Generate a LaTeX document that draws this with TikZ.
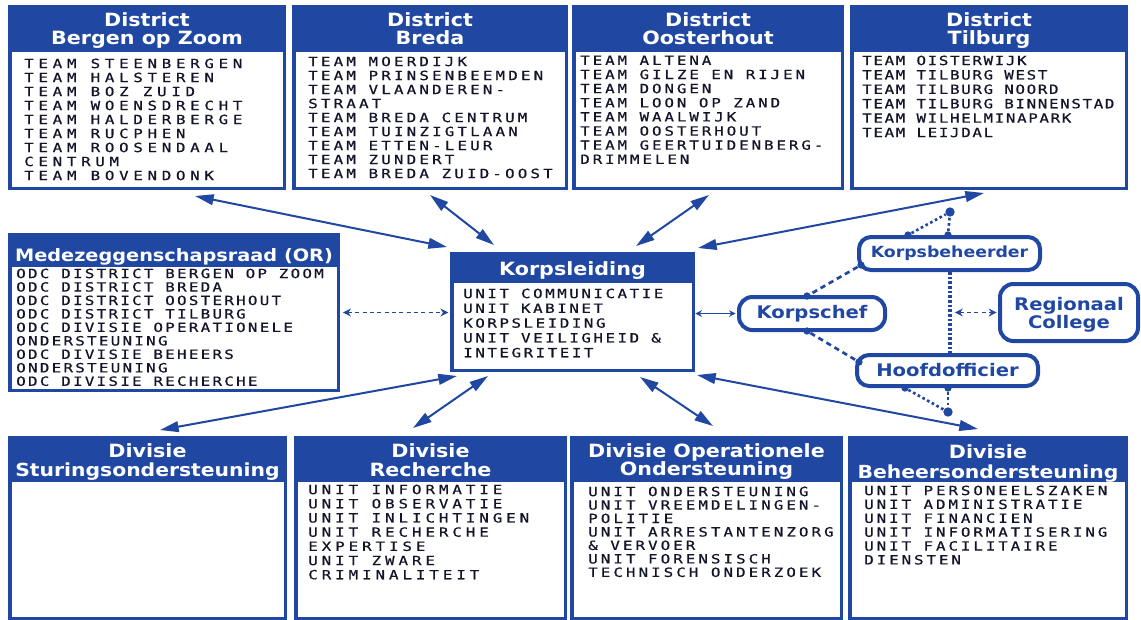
\documentclass[tikz,border=0pt]{standalone}
\usepackage{fontspec}
\usetikzlibrary{arrows.meta,fit,calc}
\newfontfamily\headfont{DejaVu Sans}[FakeStretch=1.13]
\newfontfamily\bodyfont{DejaVu Sans Mono}[FakeStretch=1.25,FakeBold=0.6]
\definecolor{cblue}{RGB}{32,72,163}
\definecolor{ctext}{RGB}{18,20,42}
\newcommand\orgbox[6]{%
  \fill[cblue] (#2,#3) rectangle (#4,#5);
  \fill[white] ({#2+3.5},#6) rectangle ({#4-3.5},{#5-3.5});
  \path (#2,#3) coordinate (#1nw) (#4,#5) coordinate (#1se);
  \node[fit=(#1nw)(#1se), inner sep=0pt] (#1) {};
}
\tikzset{
  head/.style={font=\headfont\bfseries\fontsize{13.7pt}{16pt}\selectfont, text=white, inner sep=0pt, anchor=base},
  body/.style 2 args={font=\bodyfont\fontsize{9.5pt}{#2}\selectfont\addfontfeature{LetterSpace=#1}, text=ctext, align=left, inner sep=0pt, anchor=north west},
  arr/.style={draw=cblue, line width=1.5pt, {Triangle[length=14pt,width=8pt]}-{Triangle[length=14pt,width=8pt]}},
  smallarr/.style={draw=cblue, line width=1.2pt, {Stealth[length=5pt,width=5pt]}-{Stealth[length=5pt,width=5pt]}},
  dasharr/.style={draw=cblue, line width=1.2pt, dash pattern=on 3pt off 2.5pt, {Stealth[length=6pt,width=6pt]}-{Stealth[length=6pt,width=6pt]}},
  rbox/.style={draw=cblue, line width=3pt, fill=white, inner sep=0pt},
  clab/.style={text=cblue, anchor=base, inner sep=0pt},
  bigdot/.style={circle, fill=cblue, inner sep=0pt, minimum size=7pt},
  edot/.style={circle, fill=cblue, inner sep=0pt, minimum size=5.5pt},
  dashl/.style={draw=cblue, line width=2pt, dash pattern=on 4pt off 3pt},
  dotl/.style={draw=cblue, line width=2pt, dash pattern=on 2pt off 2pt},
  vdot/.style={draw=cblue, line width=3pt, dash pattern=on 2pt off 1.5pt},
}
\begin{document}
\begin{tikzpicture}[x=0.75pt,y=-0.75pt]
\useasboundingbox (0,0) rectangle (1141,619);
\fill[white] (0,0) rectangle (1141,619);

% boxes
\orgbox{b1}{8}{5}{286}{190}{52}
\orgbox{b2}{292}{5}{568}{190}{52}
\orgbox{b3}{572}{5}{844}{190}{52}
\orgbox{b4}{850}{5}{1128}{190}{52}
\orgbox{or}{8}{233}{340}{392}{267}
\orgbox{k}{450}{252}{695}{372}{283}
\orgbox{d1}{8}{436}{287}{620}{482}
\orgbox{d2}{294}{436}{567}{620}{482}
\orgbox{d3}{570}{436}{843}{620}{482}
\orgbox{d4}{848}{436}{1128}{620}{482}

% headers
\node[head] (b1h1) at (147,26) {District};
\node[head] (b1h2) at (147,44) {Bergen op Zoom};
\node[head] (b2h1) at (430,26) {District};
\node[head] (b2h2) at (430,44) {Breda};
\node[head] (b3h1) at (708,26) {District};
\node[head] (b3h2) at (708,44) {Oosterhout};
\node[head] (b4h1) at (989,26) {District};
\node[head] (b4h2) at (989,44) {Tilburg};
\node[head, font=\headfont\bfseries\fontsize{12.8pt}{15pt}\selectfont] (orh) at (174,261) {Medezeggenschapsraad (OR)};
\node[head] (kh) at (572.5,275) {Korpsleiding};
\node[head] (d1h1) at (147.5,457) {Divisie};
\node[head, font=\headfont\bfseries\fontsize{13.5pt}{16pt}\selectfont] (d1h2) at (147.5,476) {Sturingsondersteuning};
\node[head] (d2h1) at (430.5,457) {Divisie};
\node[head] (d2h2) at (430.5,476) {Recherche};
\node[head] (d3h1) at (706.5,457) {Divisie Operationele};
\node[head] (d3h2) at (706.5,475) {Ondersteuning};
\node[head] (d4h1) at (988,458) {Divisie};
\node[head, font=\headfont\bfseries\fontsize{13.5pt}{16pt}\selectfont] (d4h2) at (988,478) {Beheersondersteuning};

% body texts
\node[body={37}{10.5pt}] (b1t) at (24,58.4) {TEAM STEENBERGEN\\TEAM HALSTEREN\\TEAM BOZ ZUID\\TEAM WOENSDRECHT\\TEAM HALDERBERGE\\TEAM RUCPHEN\\TEAM ROOSENDAAL\\CENTRUM\\TEAM BOVENDONK};
\node[body={25}{10.5pt}] (b2t) at (308,56.4) {TEAM MOERDIJK\\TEAM PRINSENBEEMDEN\\TEAM VLAANDEREN-\\STRAAT\\TEAM BREDA CENTRUM\\TEAM TUINZIGTLAAN\\TEAM ETTEN-LEUR\\TEAM ZUNDERT\\TEAM BREDA ZUID-OOST};
\node[body={23}{10.6pt}] (b3t) at (580,55.4) {TEAM ALTENA\\TEAM GILZE EN RIJEN\\TEAM DONGEN\\TEAM LOON OP ZAND\\TEAM WAALWIJK\\TEAM OOSTERHOUT\\TEAM GEERTUIDENBERG-\\DRIMMELEN};
\node[body={13}{10.8pt}] (b4t) at (862,55.4) {TEAM OISTERWIJK\\TEAM TILBURG WEST\\TEAM TILBURG NOORD\\TEAM TILBURG BINNENSTAD\\TEAM WILHELMINAPARK\\TEAM LEIJDAL};
\node[body={18}{10.1pt}] (ort) at (16,268.4) {ODC DISTRICT BERGEN OP ZOOM\\ODC DISTRICT BREDA\\ODC DISTRICT OOSTERHOUT\\ODC DISTRICT TILBURG\\ODC DIVISIE OPERATIONELE\\ONDERSTEUNING\\ODC DIVISIE BEHEERS\\ONDERSTEUNING\\ODC DIVISIE RECHERCHE};
\node[body={20}{11.1pt}] (kt) at (463,288.4) {UNIT COMMUNICATIE\\UNIT KABINET\\KORPSLEIDING\\UNIT VEILIGHEID \&\\INTEGRITEIT};
\node[body={31}{10.65pt}] (d2t) at (308,484.4) {UNIT INFORMATIE\\UNIT OBSERVATIE\\UNIT INLICHTINGEN\\UNIT RECHERCHE\\EXPERTISE\\UNIT ZWARE\\CRIMINALITEIT};
\node[body={24}{10.1pt}] (d3t) at (588,486.4) {UNIT ONDERSTEUNING\\UNIT VREEMDELINGEN-\\POLITIE\\UNIT ARRESTANTENZORG\\\& VERVOER\\UNIT FORENSISCH\\TECHNISCH ONDERZOEK};
\node[body={23}{10.4pt}] (d4t) at (864,485.4) {UNIT PERSONEELSZAKEN\\UNIT ADMINISTRATIE\\UNIT FINANCIEN\\UNIT INFORMATISERING\\UNIT FACILITAIRE\\DIENSTEN};

% main arrows
\coordinate (a1s) at (195,196); \coordinate (a1e) at (447,247);
\coordinate (a2s) at (430,195); \coordinate (a2e) at (494,245);
\coordinate (a3s) at (709,195); \coordinate (a3e) at (636,246);
\coordinate (a4s) at (984,193); \coordinate (a4e) at (698,248);
\coordinate (a5s) at (457,376); \coordinate (a5e) at (160,430);
\coordinate (a6s) at (488,376); \coordinate (a6e) at (413,428);
\coordinate (a7s) at (640,377); \coordinate (a7e) at (713,426);
\coordinate (a8s) at (697,375); \coordinate (a8e) at (978,429);
\draw[arr] (a1s) -- (a1e);
\draw[arr] (a2s) -- (a2e);
\draw[arr] (a3s) -- (a3e);
\draw[arr] (a4s) -- (a4e);
\draw[arr] (a5s) -- (a5e);
\draw[arr] (a6s) -- (a6e);
\draw[arr] (a7s) -- (a7e);
\draw[arr] (a8s) -- (a8e);

% cluster boxes
\node[rbox, minimum width=181*0.75pt, minimum height=33*0.75pt, rounded corners=9pt] (kb) at (949.5,253.5) {};
\node[rbox, minimum width=146*0.75pt, minimum height=33*0.75pt, rounded corners=10pt] (kc) at (812,313.5) {};
\node[rbox, minimum width=138*0.75pt, minimum height=57*0.75pt, rounded corners=10pt] (rc) at (1069,312.5) {};
\node[rbox, minimum width=181*0.75pt, minimum height=31*0.75pt, rounded corners=9pt] (ho) at (947.5,370.5) {};
\node[clab, font=\headfont\bfseries\fontsize{11.5pt}{13pt}\selectfont] (kbl) at (949.5,257) {Korpsbeheerder};
\node[clab, font=\headfont\bfseries\fontsize{13pt}{15pt}\selectfont] (kcl) at (812,318) {Korpschef};
\node[clab, font=\headfont\bfseries\fontsize{13pt}{15pt}\selectfont] (rcl1) at (1069,310) {Regionaal};
\node[clab, font=\headfont\bfseries\fontsize{13pt}{15pt}\selectfont] (rcl2) at (1069,328) {College};
\node[clab, font=\headfont\bfseries\fontsize{13pt}{15pt}\selectfont] (hol) at (947.5,376.5) {Hoofdofficier};

% dots
\node[edot] (kbd1) at (908,235) {};
\node[edot] (kbd2) at (948,235) {};
\node[bigdot] (kbtop) at (950,212) {};
\node[edot] (kbdl) at (861,265) {};
\node[edot] (kcdt) at (807,296) {};
\node[edot] (kcdb) at (807,331) {};
\node[edot] (hodl) at (859,362) {};
\node[edot] (hod1) at (905,388) {};
\node[edot] (hod2) at (948,388) {};
\node[bigdot] (hobot) at (948,412) {};

% cluster connectors
\draw[dotl] (kbd1) -- (kbtop);
\draw[dotl] (kbd2) -- (kbtop);
\draw[dashl] (kbdl) -- (kcdt);
\draw[dashl] (kcdb) -- (hodl);
\draw[dotl] (hod1) -- (hobot);
\draw[dotl] (hod2) -- (hobot);
\draw[vdot] (kb.south) -- (kb.south |- ho.north);
\coordinate (rcl) at (kb.south |- rc.west);
\draw[dasharr, shorten <=4pt, shorten >=1pt] (rcl) -- (rc.west);
\draw[smallarr, shorten >=1pt] (k.east |- kc.west) -- (kc.west);
\draw[dasharr, shorten <=2pt, shorten >=1pt] (or.east) -- (k.west |- or.east);
\end{tikzpicture}
\end{document}
